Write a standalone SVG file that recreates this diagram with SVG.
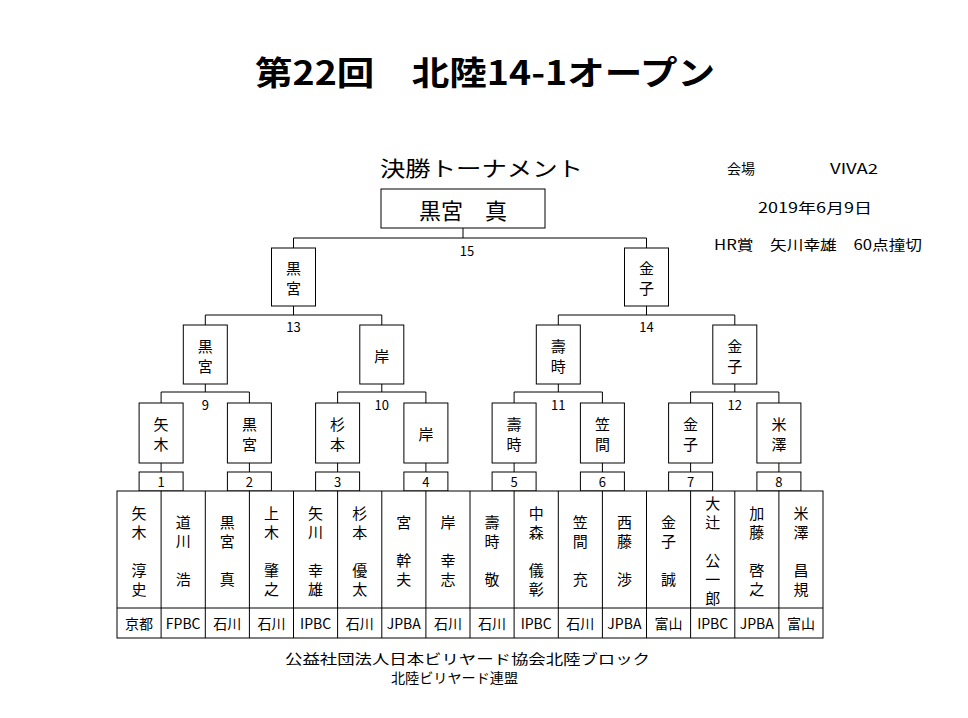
<svg xmlns="http://www.w3.org/2000/svg" width="968" height="718" viewBox="0 0 968 718">
<style>
text{font-family:"Noto Sans CJK JP","Liberation Sans",sans-serif;fill:#000;}
.n{font-size:15px;text-anchor:middle;dominant-baseline:central;}
.s{font-size:13px;text-anchor:middle;dominant-baseline:central;}
.a{font-size:14px;text-anchor:middle;dominant-baseline:central;}
.b{fill:#fff;stroke:#000;stroke-width:1;}
.l{fill:none;stroke:#000;stroke-width:1;}
</style>
<rect width="968" height="718" fill="#fff"/>
<text x="255" y="85" font-size="33" font-weight="bold" textLength="460" lengthAdjust="spacingAndGlyphs">第22回　北陸14-1オープン</text>
<text x="380" y="176" font-size="21" textLength="203" lengthAdjust="spacingAndGlyphs">決勝トーナメント</text>
<text x="727" y="174" font-size="14">会場</text>
<text x="830" y="174" font-size="14" textLength="48" lengthAdjust="spacingAndGlyphs">VIVA2</text>
<text x="758" y="213" font-size="14" textLength="114" lengthAdjust="spacingAndGlyphs">2019年6月9日</text>
<text x="714" y="250" font-size="14" textLength="208" lengthAdjust="spacingAndGlyphs">HR賞　矢川幸雄　60点撞切</text>

<g id="connectors" class="l">
<path d="M463,228V238M293.5,248V238H646.5V248"/>
<path d="M205.3,325V315H381.8V325M558.3,325V315H734.8V325"/>
<path d="M293.5,306V315M646.5,306V315"/>
<path d="M161.1,403V392H249.4V403M337.6,403V392H425.9V403M514.1,403V392H602.4V403M690.6,403V392H778.9V403"/>
<path d="M205.3,384V392M381.8,384V392M558.3,384V392M734.8,384V392"/>
<path d="M161.1,463V472M249.4,463V472M337.6,463V472M425.9,463V472M514.1,463V472M602.4,463V472M690.6,463V472M778.9,463V472"/>
</g>
<g id="labels">
<text class="s" x="467" y="250">15</text>
<text class="s" x="293.5" y="326">13</text><text class="s" x="646.5" y="326">14</text>
<text class="s" x="205.3" y="404">9</text><text class="s" x="381.8" y="404">10</text><text class="s" x="558.3" y="404">11</text><text class="s" x="734.8" y="404">12</text>
</g>

<g id="final"><rect class="b" x="381" y="189" width="164" height="39"/><text x="463" y="209" font-size="22" text-anchor="middle" dominant-baseline="central">黒宮　真</text></g>

<g id="r3-1"><rect class="b" x="271.5" y="248" width="44" height="58"/><text class="n" x="293.5" y="267">黒</text><text class="n" x="293.5" y="287">宮</text></g>
<g id="r3-2"><rect class="b" x="624.5" y="248" width="44" height="58"/><text class="n" x="646.5" y="267">金</text><text class="n" x="646.5" y="287">子</text></g>

<g id="r2-1"><rect class="b" x="183.3" y="325" width="44" height="59"/><text class="n" x="205.3" y="345">黒</text><text class="n" x="205.3" y="365">宮</text></g>
<g id="r2-2"><rect class="b" x="359.8" y="325" width="44" height="59"/><text class="n" x="381.8" y="355">岸</text></g>
<g id="r2-3"><rect class="b" x="536.3" y="325" width="44" height="59"/><text class="n" x="558.3" y="345">壽</text><text class="n" x="558.3" y="365">時</text></g>
<g id="r2-4"><rect class="b" x="712.8" y="325" width="44" height="59"/><text class="n" x="734.8" y="345">金</text><text class="n" x="734.8" y="365">子</text></g>

<g id="r1-1"><rect class="b" x="139.1" y="403" width="44" height="60"/><text class="n" x="161.1" y="423">矢</text><text class="n" x="161.1" y="443">木</text></g>
<g id="r1-2"><rect class="b" x="227.4" y="403" width="44" height="60"/><text class="n" x="249.4" y="423">黒</text><text class="n" x="249.4" y="443">宮</text></g>
<g id="r1-3"><rect class="b" x="315.6" y="403" width="44" height="60"/><text class="n" x="337.6" y="423">杉</text><text class="n" x="337.6" y="443">本</text></g>
<g id="r1-4"><rect class="b" x="403.9" y="403" width="44" height="60"/><text class="n" x="425.9" y="433">岸</text></g>
<g id="r1-5"><rect class="b" x="492.1" y="403" width="44" height="60"/><text class="n" x="514.1" y="423">壽</text><text class="n" x="514.1" y="443">時</text></g>
<g id="r1-6"><rect class="b" x="580.4" y="403" width="44" height="60"/><text class="n" x="602.4" y="423">笠</text><text class="n" x="602.4" y="443">間</text></g>
<g id="r1-7"><rect class="b" x="668.6" y="403" width="44" height="60"/><text class="n" x="690.6" y="423">金</text><text class="n" x="690.6" y="443">子</text></g>
<g id="r1-8"><rect class="b" x="756.9" y="403" width="44" height="60"/><text class="n" x="778.9" y="423">米</text><text class="n" x="778.9" y="443">澤</text></g>

<g id="match-numbers">
<rect class="b" x="139.1" y="472" width="44" height="19"/><text class="s" x="161.1" y="481.5">1</text>
<rect class="b" x="227.4" y="472" width="44" height="19"/><text class="s" x="249.4" y="481.5">2</text>
<rect class="b" x="315.6" y="472" width="44" height="19"/><text class="s" x="337.6" y="481.5">3</text>
<rect class="b" x="403.9" y="472" width="44" height="19"/><text class="s" x="425.9" y="481.5">4</text>
<rect class="b" x="492.1" y="472" width="44" height="19"/><text class="s" x="514.1" y="481.5">5</text>
<rect class="b" x="580.4" y="472" width="44" height="19"/><text class="s" x="602.4" y="481.5">6</text>
<rect class="b" x="668.6" y="472" width="44" height="19"/><text class="s" x="690.6" y="481.5">7</text>
<rect class="b" x="756.9" y="472" width="44" height="19"/><text class="s" x="778.9" y="481.5">8</text>
</g>

<g id="players">
<rect class="b" x="117" y="491" width="706" height="147"/>
<path class="l" d="M117,608H823M161.1,491V638M205.3,491V638M249.4,491V638M293.5,491V638M337.6,491V638M381.8,491V638M425.9,491V638M470,491V638M514.1,491V638M558.3,491V638M602.4,491V638M646.5,491V638M690.6,491V638M734.8,491V638M778.9,491V638"/>
<g>
<text class="n" x="139.1" y="512">矢</text><text class="n" x="139.1" y="531">木</text><text class="n" x="139.1" y="569">淳</text><text class="n" x="139.1" y="588">史</text>
<text class="n" x="183.2" y="521.5">道</text><text class="n" x="183.2" y="540.5">川</text><text class="n" x="183.2" y="578.5">浩</text>
<text class="n" x="227.3" y="521.5">黒</text><text class="n" x="227.3" y="540.5">宮</text><text class="n" x="227.3" y="578.5">真</text>
<text class="n" x="271.4" y="512">上</text><text class="n" x="271.4" y="531">木</text><text class="n" x="271.4" y="569">肇</text><text class="n" x="271.4" y="588">之</text>
<text class="n" x="315.6" y="512">矢</text><text class="n" x="315.6" y="531">川</text><text class="n" x="315.6" y="569">幸</text><text class="n" x="315.6" y="588">雄</text>
<text class="n" x="359.7" y="512">杉</text><text class="n" x="359.7" y="531">本</text><text class="n" x="359.7" y="569">優</text><text class="n" x="359.7" y="588">太</text>
<text class="n" x="403.8" y="521.5">宮</text><text class="n" x="403.8" y="559.5">幹</text><text class="n" x="403.8" y="578.5">夫</text>
<text class="n" x="447.9" y="521.5">岸</text><text class="n" x="447.9" y="559.5">幸</text><text class="n" x="447.9" y="578.5">志</text>
<text class="n" x="492.1" y="521.5">壽</text><text class="n" x="492.1" y="540.5">時</text><text class="n" x="492.1" y="578.5">敬</text>
<text class="n" x="536.2" y="512">中</text><text class="n" x="536.2" y="531">森</text><text class="n" x="536.2" y="569">儀</text><text class="n" x="536.2" y="588">彰</text>
<text class="n" x="580.3" y="521.5">笠</text><text class="n" x="580.3" y="540.5">間</text><text class="n" x="580.3" y="578.5">充</text>
<text class="n" x="624.4" y="521.5">西</text><text class="n" x="624.4" y="540.5">藤</text><text class="n" x="624.4" y="578.5">渉</text>
<text class="n" x="668.6" y="521.5">金</text><text class="n" x="668.6" y="540.5">子</text><text class="n" x="668.6" y="578.5">誠</text>
<text class="n" x="712.7" y="502.5">大</text><text class="n" x="712.7" y="521.5">辻</text><text class="n" x="712.7" y="559.5">公</text><text class="n" x="712.7" y="578.5">一</text><text class="n" x="712.7" y="597.5">郎</text>
<text class="n" x="756.8" y="512">加</text><text class="n" x="756.8" y="531">藤</text><text class="n" x="756.8" y="569">啓</text><text class="n" x="756.8" y="588">之</text>
<text class="n" x="800.9" y="512">米</text><text class="n" x="800.9" y="531">澤</text><text class="n" x="800.9" y="569">昌</text><text class="n" x="800.9" y="588">規</text>
</g>
<g>
<text class="a" x="139.1" y="623">京都</text><text class="a" x="183.2" y="623">FPBC</text><text class="a" x="227.3" y="623">石川</text><text class="a" x="271.4" y="623">石川</text>
<text class="a" x="315.6" y="623">IPBC</text><text class="a" x="359.7" y="623">石川</text><text class="a" x="403.8" y="623">JPBA</text><text class="a" x="447.9" y="623">石川</text>
<text class="a" x="492.1" y="623">石川</text><text class="a" x="536.2" y="623">IPBC</text><text class="a" x="580.3" y="623">石川</text><text class="a" x="624.4" y="623">JPBA</text>
<text class="a" x="668.6" y="623">富山</text><text class="a" x="712.7" y="623">IPBC</text><text class="a" x="756.8" y="623">JPBA</text><text class="a" x="800.9" y="623">富山</text>
</g>
</g>

<text x="285" y="664" font-size="13.5" textLength="365" lengthAdjust="spacingAndGlyphs">公益社団法人日本ビリヤード協会北陸ブロック</text>
<text x="391" y="683" font-size="13.5" textLength="127" lengthAdjust="spacingAndGlyphs">北陸ビリヤード連盟</text>
</svg>
